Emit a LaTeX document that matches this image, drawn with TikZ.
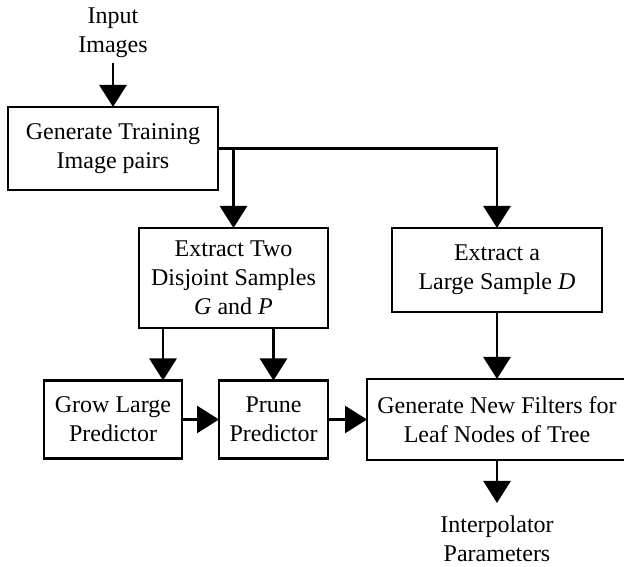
\documentclass[tikz,border=0pt]{standalone}
\usepackage{fontspec}
\setmainfont{Liberation Serif}
\usetikzlibrary{arrows.meta, positioning}
\tikzset{
    stage/.style={
        rectangle,
        draw=black,
        line width=2.8pt,
        inner sep=0pt,
        outer sep=0pt,
        align=center,
        font=\fontsize{24}{29}\selectfont
    },
    arrow/.style={
        line width=2.8pt,
        -{Triangle[width=27pt,length=22pt]}
    },
    io/.style={
        rectangle,
        draw=none,
        align=center,
        font=\fontsize{24}{29}\selectfont
    },
}
\begin{document}
\begin{tikzpicture}[x=1pt,y=1pt]
\useasboundingbox (0,0) rectangle (624,567);

% Generate training pairs
\node[stage, minimum width=210pt, minimum height=83pt] (gen) at (113,418.5) {
    Generate Training\\
    Image pairs
};

% Input
\node[io, inner sep=5pt, above=44pt of gen] (input) {
    Input\\
    Images
};

% Extract two samples
\node[stage, minimum width=189pt, minimum height=100pt,
      below right=38pt and -79pt of gen] (ext2) {
    Extract Two\\
    Disjoint Samples\\
    \textit{G} and \textit{P}
};

% Extract large sample
\node[stage, minimum width=210pt, minimum height=84pt,
      right=64pt of ext2.north east, anchor=north west] (extD) {
    Extract a\\
    Large Sample \textit{D}
};

% Generate new filters
\node[stage, minimum width=260pt, minimum height=81pt, below=67pt of extD] (filt) {
    Generate New Filters for\\
    Leaf Nodes of Tree
};

% Prune
\node[stage, minimum width=109pt, minimum height=78pt, left=39pt of filt] (prune) {
    Prune\\
    Predictor
};

% Grow
\node[stage, minimum width=138pt, minimum height=78pt, left=37pt of prune] (grow) {
    Grow Large\\
    Predictor
};

% Output
\node[io, inner sep=2pt, outer sep=11pt, below=43pt of filt] (out) {
    Interpolator\\
    Parameters
};

% Arrows
\draw[arrow] (input) -- (gen);
\draw[arrow] (gen.east) -| (extD.north);
\draw[arrow] (gen.east -| ext2.north) -- (ext2.north);

\draw[arrow] ([xshift=24pt]ext2.south west) -- ([xshift=24pt]ext2.south west |- grow.north);
\draw[arrow] (ext2.south -| prune.north) -- (prune.north);
\draw[arrow] (extD) -- (filt);

\draw[arrow] (grow) -- (prune);
\draw[arrow] (prune.east) -- (prune.east -| filt.west);

\draw[arrow] (filt) -- (out);

\end{tikzpicture}
\end{document}
